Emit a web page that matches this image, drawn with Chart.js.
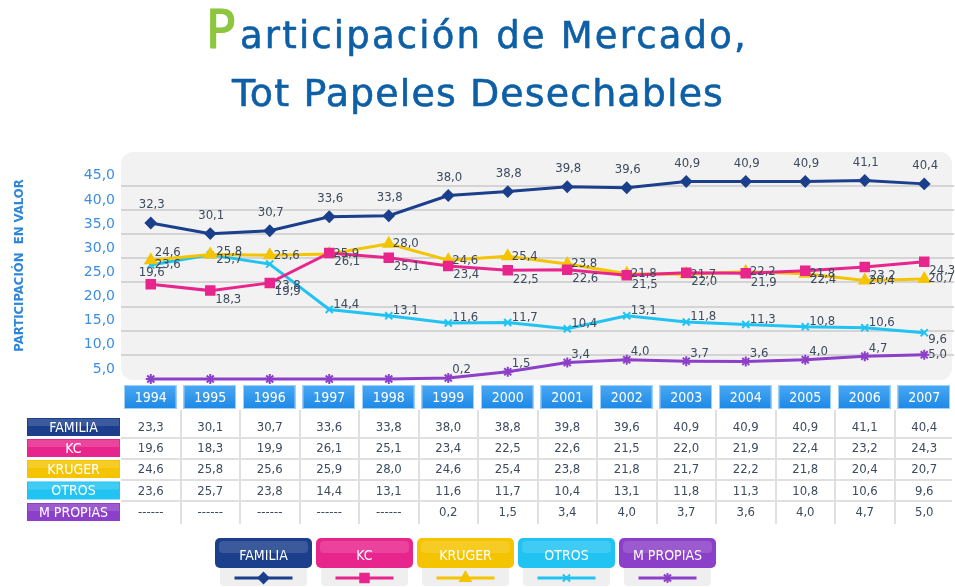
<!DOCTYPE html>
<html lang="es">
<head>
<meta charset="utf-8">
<title>Participación de Mercado, Tot Papeles Desechables</title>
<script src="https://cdn.jsdelivr.net/npm/chart.js@4.4.1/dist/chart.umd.min.js"></script>
<style>
  html, body { margin: 0; padding: 0; background: #fff; }
  canvas { display: block; }
</style>
</head>
<body>
<canvas id="shareChart" width="955" height="587"></canvas>
<script>
const years = ['1994', '1995', '1996', '1997', '1998', '1999', '2000', '2001', '2002', '2003', '2004', '2005', '2006', '2007'];
const yTickLabels = ['5,0', '10,0', '15,0', '20,0', '25,0', '30,0', '35,0', '40,0', '45,0'];

const familia = [32.3, 30.1, 30.7, 33.6, 33.8, 38.0, 38.8, 39.8, 39.6, 40.9, 40.9, 40.9, 41.1, 40.4];
// the table prints 23,3 for 1994 while the line is drawn at 32,3
const familiaTable = [23.3, 30.1, 30.7, 33.6, 33.8, 38.0, 38.8, 39.8, 39.6, 40.9, 40.9, 40.9, 41.1, 40.4];
const kc = [19.6, 18.3, 19.9, 26.1, 25.1, 23.4, 22.5, 22.6, 21.5, 22.0, 21.9, 22.4, 23.2, 24.3];
const kruger = [24.6, 25.8, 25.6, 25.9, 28.0, 24.6, 25.4, 23.8, 21.8, 21.7, 22.2, 21.8, 20.4, 20.7];
const otros = [23.6, 25.7, 23.8, 14.4, 13.1, 11.6, 11.7, 10.4, 13.1, 11.8, 11.3, 10.8, 10.6, 9.6];
const mPropias = [null, null, null, null, null, 0.2, 1.5, 3.4, 4.0, 3.7, 3.6, 4.0, 4.7, 5.0];

const FONT = "'DejaVu Sans Condensed', 'DejaVu Sans', sans-serif";
const FONT_WIDE = "'DejaVu Sans', sans-serif";

const series = [
    { name: 'FAMILIA', values: familia, table: familiaTable, color: '#1b3f8c', style: 'rectRot', radius: 5, label: { dx: 1, dy: -18, align: 'center' } },
    { name: 'KC', values: kc, table: kc, color: '#e8258d', style: 'rect', radius: 6, label: { dx: 5, dy: 9, align: 'left' } },
    { name: 'KRUGER', values: kruger, table: kruger, color: '#f5c400', style: 'triangle', radius: 6, label: { dx: 4, dy: 0, align: 'left' } },
    { name: 'OTROS', values: otros, table: otros, color: '#20c3f2', style: 'crossRot', radius: 5, label: { dx: 4, dy: -5, align: 'left' } },
    { name: 'M PROPIAS', values: mPropias, table: mPropias, color: '#8c3fc8', style: 'star', radius: 5, label: { dx: 4, dy: -8, align: 'left' } }
];

const labelTweaks = {
    'KC-0': { dx: 1, dy: -12, align: 'center' },
    'KRUGER-0': { dx: 4, dy: -8 },
    'KRUGER-1': { dx: 6, dy: -3 },
    'OTROS-0': { dx: 4, dy: 0 },
    'OTROS-1': { dx: 6, dy: 5 },
    'OTROS-2': { dx: 5, dy: 22 },
    'OTROS-13': { dx: 4, dy: 7 },
    'M PROPIAS-13': { dx: 4, dy: 0 }
};

function fmt(v) {
    return v == null ? '------' : v.toFixed(1).replace('.', ',');
}

function fitText(ctx, text, x, y, size, targetWidth, family) {
    ctx.font = `${size}px ${family}`;
    ctx.letterSpacing = '0px';
    const natural = ctx.measureText(text).width;
    const spacing = (targetWidth - natural) / text.length;
    ctx.letterSpacing = `${spacing}px`;
    ctx.fillText(text, x, y);
    ctx.strokeText(text, x, y);
    ctx.letterSpacing = '0px';
}

function drawTitle(ctx) {
    ctx.save();
    ctx.textAlign = 'left';
    ctx.textBaseline = 'alphabetic';
    ctx.lineJoin = 'round';
    ctx.fillStyle = '#8dc63f';
    ctx.strokeStyle = '#8dc63f';
    ctx.lineWidth = 1.2;
    ctx.font = `54px ${FONT}`;
    ctx.fillText('P', 206, 48);
    ctx.strokeText('P', 206, 48);
    ctx.fillStyle = '#0d5fa6';
    ctx.strokeStyle = '#0d5fa6';
    ctx.lineWidth = 0.6;
    fitText(ctx, 'articipación de Mercado,', 240, 48, 37, 508, FONT_WIDE);
    fitText(ctx, 'Tot Papeles Desechables', 232, 106, 38, 492, FONT_WIDE);
    ctx.restore();
}

function roundBox(ctx, x, y, w, h, r) {
    ctx.beginPath();
    ctx.roundRect(x, y, w, h, r);
}

const panelPlugin = {
    id: 'panel',
    beforeDraw(chart) {
        const { ctx, chartArea: a } = chart;
        ctx.save();
        ctx.fillStyle = '#fff';
        ctx.fillRect(0, 0, chart.width, chart.height);
        ctx.fillStyle = '#f2f2f2';
        roundBox(ctx, a.left, a.top, a.right - a.left - 2, a.bottom - a.top + 1, 12);
        ctx.fill();
        ctx.restore();
        drawTitle(ctx);
    }
};

const labelPlugin = {
    id: 'pointLabels',
    afterDatasetsDraw(chart) {
        const ctx = chart.ctx;
        ctx.save();
        ctx.font = `13px ${FONT}`;
        ctx.fillStyle = '#3d4b5e';
        ctx.textBaseline = 'middle';
        series.forEach((s, di) => {
            const meta = chart.getDatasetMeta(di);
            meta.data.forEach((pt, i) => {
                const v = s.values[i];
                if (v == null) return;
                const pos = Object.assign({}, s.label, labelTweaks[s.name + '-' + i]);
                ctx.textAlign = pos.align || 'left';
                ctx.fillText(fmt(v), pt.x + pos.dx, pt.y + pos.dy);
            });
        });
        ctx.restore();
    }
};

const tablePlugin = {
    id: 'dataTable',
    afterDraw(chart) {
        const { ctx, chartArea: a } = chart;
        const x = chart.scales.x;
        const step = x.getPixelForValue(1) - x.getPixelForValue(0);
        const rowY = [427, 448, 469, 490.5, 512];
        ctx.save();

        // column separators and row separators
        ctx.strokeStyle = '#e0e0e0';
        ctx.lineWidth = 2;
        for (let i = 0; i < years.length - 1; i++) {
            const sx = Math.round(x.getPixelForValue(i) + step / 2);
            ctx.beginPath();
            ctx.moveTo(sx, 410);
            ctx.lineTo(sx, 524);
            ctx.stroke();
        }
        for (let r = 0; r < rowY.length - 1; r++) {
            const sy = Math.round((rowY[r] + rowY[r + 1]) / 2);
            ctx.beginPath();
            ctx.moveTo(a.left, sy);
            ctx.lineTo(a.right - 2, sy);
            ctx.stroke();
        }

        // year headers
        ctx.textAlign = 'center';
        ctx.textBaseline = 'middle';
        years.forEach((yr, i) => {
            const cx = x.getPixelForValue(i);
            const bx = cx - step / 2 + 3, bw = step - 7;
            const grad = ctx.createLinearGradient(0, 385, 0, 409);
            grad.addColorStop(0, '#4aa8f3');
            grad.addColorStop(1, '#1c88e6');
            ctx.fillStyle = grad;
            ctx.fillRect(bx, 385, bw, 24);
            ctx.strokeStyle = '#9fd0f7';
            ctx.lineWidth = 1;
            ctx.strokeRect(bx + 0.5, 385.5, bw - 1, 23);
            ctx.fillStyle = '#fff';
            ctx.font = `14px ${FONT}`;
            ctx.fillText(yr, cx, 398);
        });

        // rows
        series.forEach((s, r) => {
            const cy = rowY[r];
            ctx.fillStyle = s.color;
            ctx.fillRect(27, cy - 9, 93, 18);
            ctx.fillStyle = 'rgba(255,255,255,0.15)';
            ctx.fillRect(28, cy - 8, 91, 7);
            ctx.fillStyle = '#fff';
            ctx.font = `14px ${FONT}`;
            ctx.fillText(s.name, 73.5, cy + 1);
            ctx.fillStyle = '#3d4b5e';
            ctx.font = `13px ${FONT}`;
            s.table.forEach((v, i) => {
                ctx.fillText(fmt(v), x.getPixelForValue(i), cy + 1);
            });
        });

        // legend
        const boxW = 97, gap = 4, startX = 215;
        series.forEach((s, i) => {
            const bx = startX + i * (boxW + gap);
            ctx.fillStyle = '#efefef';
            roundBox(ctx, bx + 5, 566, boxW - 10, 20, 4);
            ctx.fill();
            ctx.fillStyle = s.color;
            roundBox(ctx, bx, 538, boxW, 30, 5);
            ctx.fill();
            ctx.fillStyle = 'rgba(255,255,255,0.14)';
            roundBox(ctx, bx + 4, 541, boxW - 8, 12, 4);
            ctx.fill();
            ctx.fillStyle = '#fff';
            ctx.font = `14px ${FONT}`;
            ctx.fillText(s.name, bx + boxW / 2, 556);

            const ly = 578, mid = bx + boxW / 2;
            ctx.strokeStyle = s.color;
            ctx.lineWidth = 3;
            ctx.beginPath();
            ctx.moveTo(mid - 29, ly);
            ctx.lineTo(mid + 29, ly);
            ctx.stroke();
            ctx.fillStyle = s.color;
            ctx.lineWidth = 2;
            Chart.helpers.drawPoint(ctx, { pointStyle: s.style, radius: s.radius, rotation: 0, borderWidth: 2 }, mid, ly);
        });

        ctx.restore();
    }
};

const chart = new Chart(document.getElementById('shareChart'), {
    type: 'line',
    data: {
        labels: years,
        datasets: series.map(s => ({
            label: s.name,
            data: s.values.map(v => (v == null ? 0 : v)),
            borderColor: s.color,
            backgroundColor: s.color,
            borderWidth: 3,
            pointStyle: s.style,
            pointRadius: s.radius,
            pointBorderWidth: 2,
            tension: 0,
            clip: false
        }))
    },
    options: {
        responsive: false,
        animation: false,
        devicePixelRatio: 1,
        layout: { autoPadding: false, padding: { top: 152, bottom: 208, left: 0, right: 1 } },
        plugins: {
            legend: { display: false },
            tooltip: { enabled: false }
        },
        scales: {
            x: { type: 'category', offset: true, display: false },
            y: {
                min: 0,
                max: 47,
                afterBuildTicks: scale => { scale.ticks = scale.ticks.filter(t => t.value <= 40); },
                afterFit: scale => { scale.width = 121; },
                border: { display: false },
                grid: {
                    drawTicks: false,
                    lineWidth: 2,
                    color: c => (c.tick && c.tick.value === 0 ? 'rgba(0,0,0,0)' : '#d4d4d4')
                },
                ticks: {
                    stepSize: 5,
                    padding: 6,
                    labelOffset: -10,
                    color: '#3d8ee0',
                    font: { family: FONT_WIDE, size: 14 },
                    callback: (value, index) => yTickLabels[index]
                },
                title: {
                    display: true,
                    text: 'PARTICIPACIÓN  EN VALOR',
                    color: '#2d86d9',
                    font: { family: FONT, size: 13, weight: 'bold' },
                    padding: { top: 12, bottom: 0 }
                }
            }
        }
    },
    plugins: [panelPlugin, labelPlugin, tablePlugin]
});
</script>
</body>
</html>
